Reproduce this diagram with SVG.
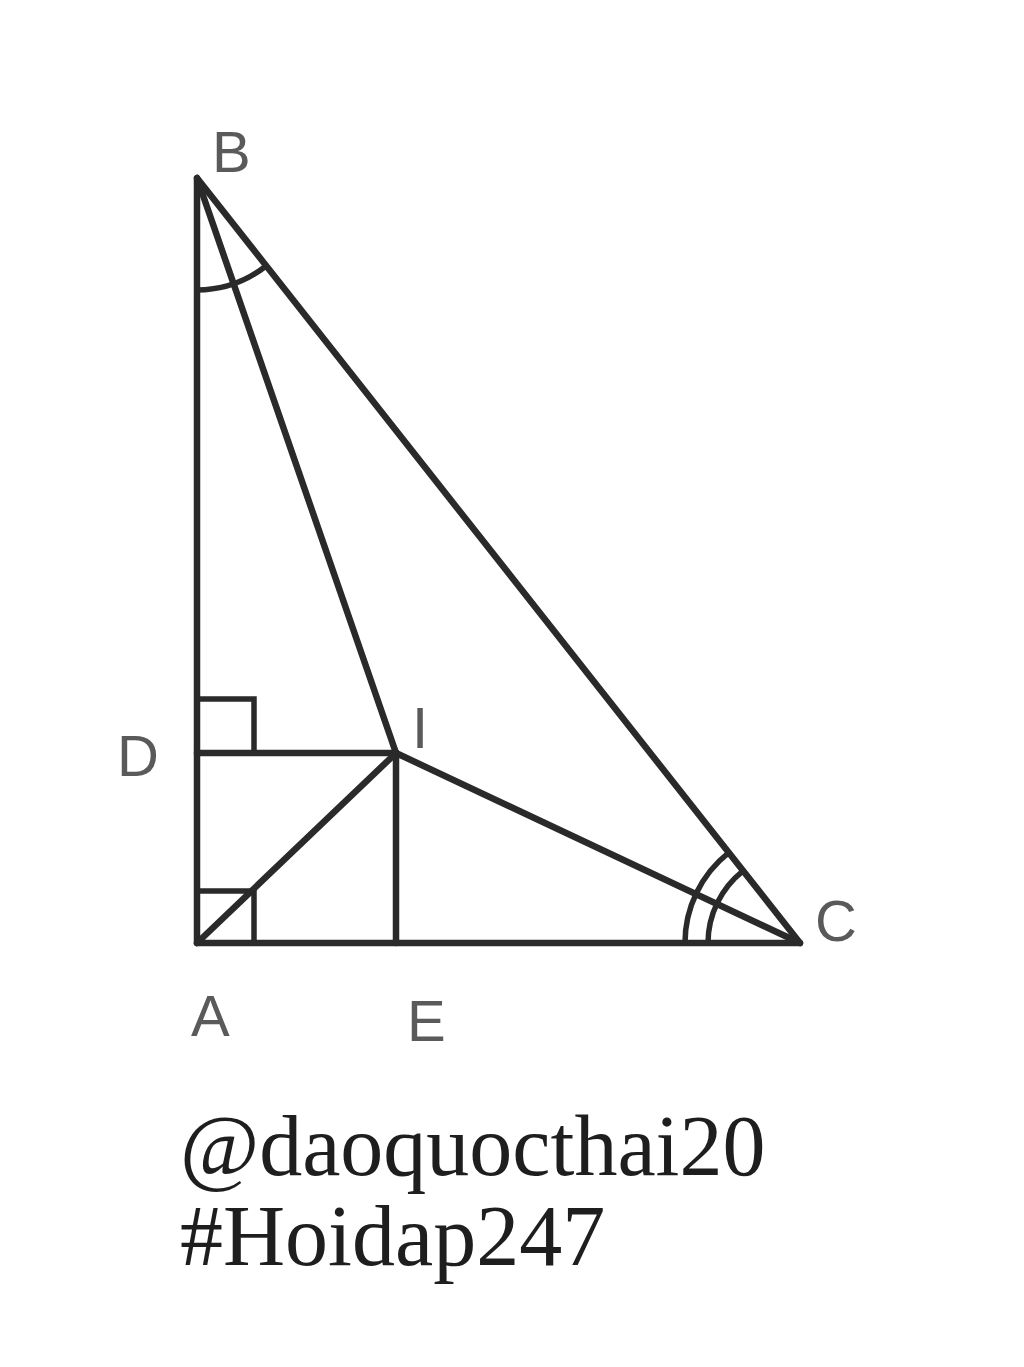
<svg xmlns="http://www.w3.org/2000/svg" width="1024" height="1367" viewBox="0 0 1024 1367">
<style>
.ln{stroke:#2a2a2a;stroke-width:6.5;fill:none;stroke-linecap:round;stroke-linejoin:round}
.th{stroke:#2a2a2a;stroke-width:5.5;fill:none}
.lb{font-family:"Liberation Sans",Arial,sans-serif;font-size:58px;fill:#5a5a5a}
.wm{font-family:"Liberation Serif","Times New Roman",serif;font-size:86px;fill:#1e1e1e}
</style>
<rect width="1024" height="1367" fill="#fff"/>
<g id="connectors">
<path class="ln" d="M197 178 L197 943 L800 943 Z"/>
<line class="ln" x1="197" y1="178" x2="396" y2="753"/>
<line class="ln" x1="197" y1="753" x2="396" y2="753"/>
<line class="ln" x1="396" y1="753" x2="396" y2="943"/>
<line class="ln" x1="396" y1="753" x2="800" y2="943"/>
<line class="ln" x1="197" y1="943" x2="396" y2="753"/>
</g>
<g id="marks">
<path class="th" d="M197 290 A112 112 0 0 0 266 266"/>
<path class="th" d="M685 943 A115 115 0 0 1 728.8 852.7"/>
<path class="th" d="M708 943 A92 92 0 0 1 743.1 870.8"/>
<path class="th" d="M197 699 H254 V753"/>
<path class="th" d="M197 891 H254 V943"/>
</g>
<g id="B"><text class="lb" x="212" y="172">B</text></g>
<g id="D"><text class="lb" x="117" y="776">D</text></g>
<g id="I"><text class="lb" x="412" y="748">I</text></g>
<g id="C"><text class="lb" x="815" y="941">C</text></g>
<g id="A"><text class="lb" x="191" y="1036">A</text></g>
<g id="E"><text class="lb" x="407" y="1041">E</text></g>
<g id="watermark">
<text class="wm" x="180" y="1175">@daoquocthai20</text>
<text class="wm" x="180" y="1265">#Hoidap247</text>
</g>
</svg>
